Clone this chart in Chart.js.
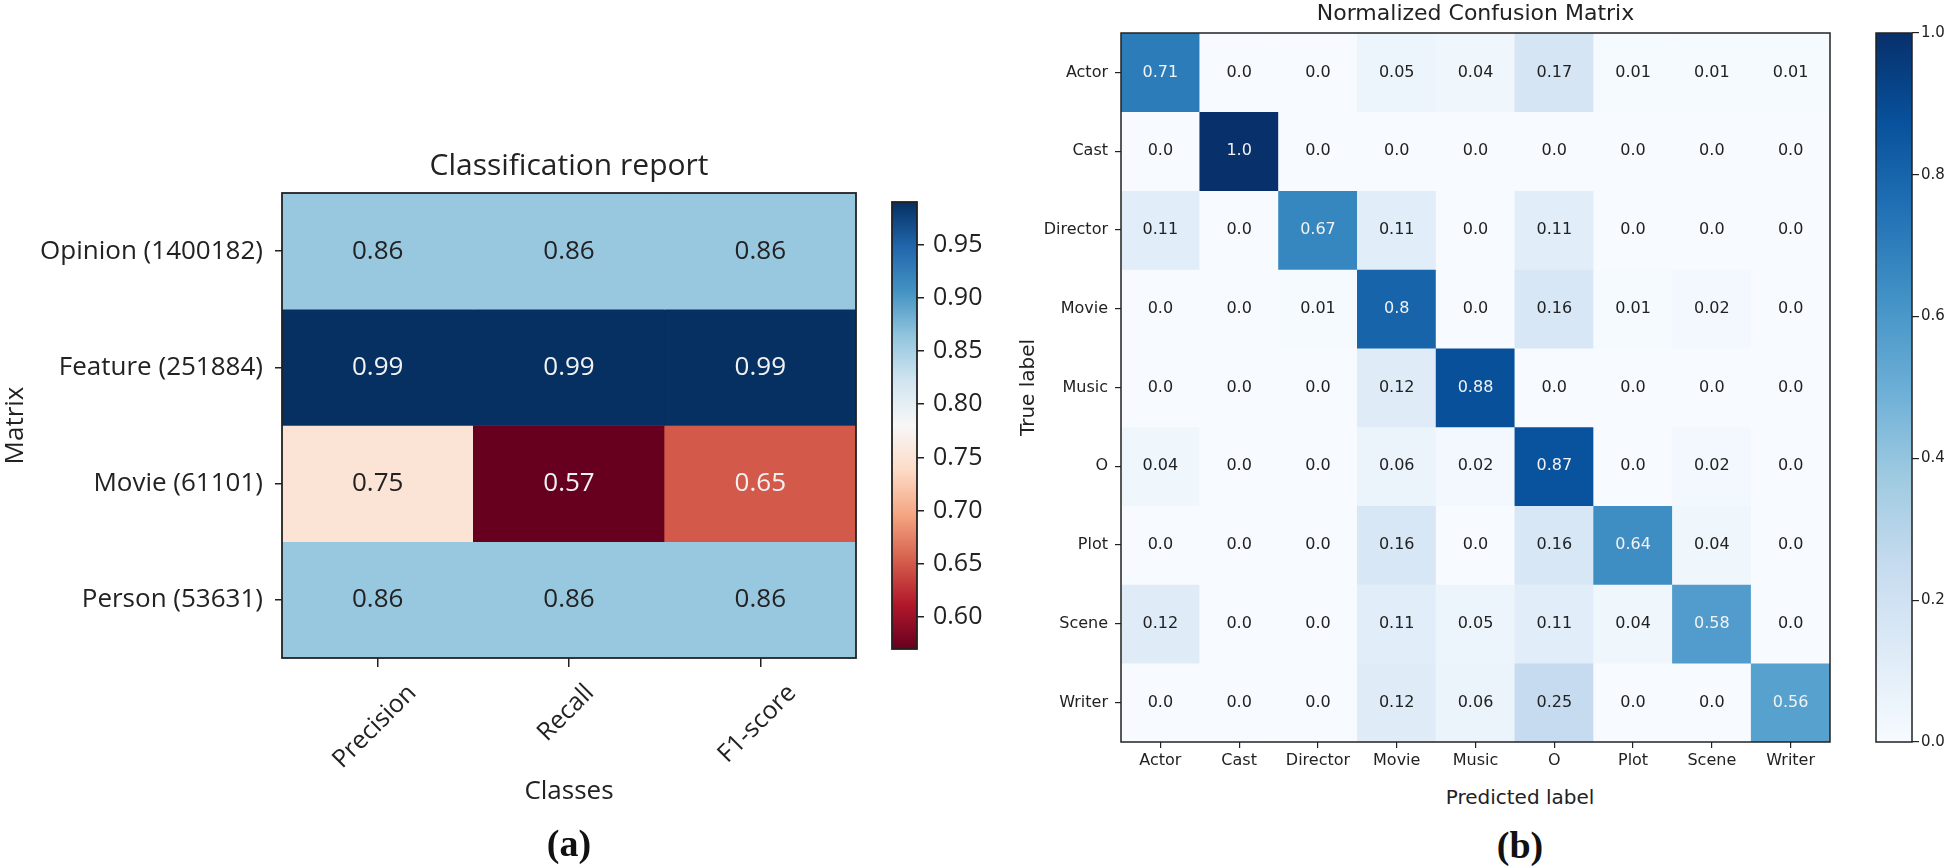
<!DOCTYPE html>
<html>
<head>
<meta charset="utf-8">
<script src="https://cdn.jsdelivr.net/npm/chart.js@4.4.1/dist/chart.umd.min.js"></script>
<style>
    html, body { margin: 0; padding: 0; background: #fff; }
    body { width: 1950px; height: 866px; position: relative; overflow: hidden; }
    .box { position: absolute; }
    .tag { position: absolute; transform: translate(-50%, -50%); font-family: 'Liberation Serif', serif; font-weight: bold; font-size: 38px; color: #111; }
    #predLabel { position: absolute; transform: translate(-50%, -50%); font-family: 'DejaVu Sans', sans-serif; font-size: 20px; color: #222; white-space: nowrap; }
</style>
</head>
<body>
<div class="box" style="left:0;top:140px;width:860px;height:726px"><canvas id="reportChart"></canvas></div>
<div class="box" style="left:887px;top:178px;width:115px;height:495px"><canvas id="reportBar"></canvas></div>
<div class="box" style="left:1017px;top:0;width:817px;height:772px"><canvas id="cmChart"></canvas></div>
<div class="box" style="left:1871px;top:18px;width:79px;height:739px"><canvas id="cmBar"></canvas></div>
<div id="predLabel" style="left:1520px;top:797px">Predicted label</div>
<div class="tag" style="left:569px;top:843px">(a)</div>
<div class="tag" style="left:1520px;top:845px">(b)</div>
<script>
    // ─── DATA ───
    const reportRows = ['Opinion (1400182)', 'Feature (251884)', 'Movie (61101)', 'Person (53631)'];
    const reportCols = ['Precision', 'Recall', 'F1-score'];
    const opinionScores = [0.86, 0.86, 0.86];
    const featureScores = [0.99, 0.99, 0.99];
    const movieScores = [0.75, 0.57, 0.65];
    const personScores = [0.86, 0.86, 0.86];
    const reportTicks = [0.60, 0.65, 0.70, 0.75, 0.80, 0.85, 0.90, 0.95];

    const cmLabels = ['Actor', 'Cast', 'Director', 'Movie', 'Music', 'O', 'Plot', 'Scene', 'Writer'];
    const actorRow = [0.71, 0.0, 0.0, 0.05, 0.04, 0.17, 0.01, 0.01, 0.01];
    const castRow = [0.0, 1.0, 0.0, 0.0, 0.0, 0.0, 0.0, 0.0, 0.0];
    const directorRow = [0.11, 0.0, 0.67, 0.11, 0.0, 0.11, 0.0, 0.0, 0.0];
    const movieRow = [0.0, 0.0, 0.01, 0.8, 0.0, 0.16, 0.01, 0.02, 0.0];
    const musicRow = [0.0, 0.0, 0.0, 0.12, 0.88, 0.0, 0.0, 0.0, 0.0];
    const oRow = [0.04, 0.0, 0.0, 0.06, 0.02, 0.87, 0.0, 0.02, 0.0];
    const plotRow = [0.0, 0.0, 0.0, 0.16, 0.0, 0.16, 0.64, 0.04, 0.0];
    const sceneRow = [0.12, 0.0, 0.0, 0.11, 0.05, 0.11, 0.04, 0.58, 0.0];
    const writerRow = [0.0, 0.0, 0.0, 0.12, 0.06, 0.25, 0.0, 0.0, 0.56];
    const cmTicks = [0.0, 0.2, 0.4, 0.6, 0.8, 1.0];

    const reportGrid = [opinionScores, featureScores, movieScores, personScores];
    const cmGrid = [actorRow, castRow, directorRow, movieRow, musicRow, oRow, plotRow, sceneRow, writerRow];
    const reportMin = Math.min(...reportGrid.flat());
    const reportMax = Math.max(...reportGrid.flat());

    // ─── COLOUR MAPS ───
    const rdBu = ['#67001f', '#b2182b', '#d6604d', '#f4a582', '#fddbc7', '#f7f7f7',
        '#d1e5f0', '#92c5de', '#4393c3', '#2166ac', '#053061'];
    const blues = ['#f7fbff', '#deebf7', '#c6dbef', '#9ecae1', '#6baed6', '#4292c6',
        '#2171b5', '#08519c', '#08306b'];

    function hexToRgb(h) {
        const n = parseInt(h.slice(1), 16);
        return [(n >> 16) & 255, (n >> 8) & 255, n & 255];
    }

    function sampleRgb(stops, t) {
        t = Math.min(1, Math.max(0, t));
        const p = t * (stops.length - 1);
        const i = Math.min(Math.floor(p), stops.length - 2);
        const f = p - i;
        const a = hexToRgb(stops[i]), b = hexToRgb(stops[i + 1]);
        return a.map((c, k) => Math.round(c + (b[k] - c) * f));
    }

    const toCss = rgb => 'rgb(' + rgb.join(',') + ')';
    const reportT = v => (v - reportMin) / (reportMax - reportMin);

    // ─── PLUGINS ───
    const frameBorder = {
        id: 'frameBorder',
        afterDraw(chart, args, opts) {
            const { ctx, chartArea: a } = chart;
            ctx.save();
            ctx.strokeStyle = '#222';
            ctx.lineWidth = opts.width || 1.5;
            ctx.strokeRect(a.left, a.top, a.right - a.left, a.bottom - a.top);
            ctx.restore();
        }
    };

    function cellText(grid, font, format, colorFor) {
        return {
            id: 'cellText',
            afterDatasetsDraw(chart) {
                const ctx = chart.ctx;
                ctx.save();
                ctx.font = font;
                ctx.textAlign = 'center';
                ctx.textBaseline = 'middle';
                grid.forEach((row, i) => {
                    chart.getDatasetMeta(i).data.forEach((bar, j) => {
                        ctx.fillStyle = colorFor(row[j]);
                        ctx.fillText(format(row[j]), bar.x, (bar.y + bar.base) / 2);
                    });
                });
                ctx.restore();
            }
        };
    }

    // x labels at 45deg, centred under the tick like matplotlib
    const slantedLabels = {
        id: 'slantedLabels',
        afterDraw(chart) {
            const ctx = chart.ctx, scale = chart.scales.x;
            const size = 25;
            ctx.save();
            ctx.font = size + 'px "Open Sans"';
            ctx.fillStyle = '#222';
            ctx.textAlign = 'center';
            ctx.textBaseline = 'middle';
            reportCols.forEach((label, i) => {
                const w = ctx.measureText(label).width;
                const side = (w + size * 0.8) * Math.SQRT1_2;
                ctx.save();
                ctx.translate(scale.getPixelForTick(i) - 3, scale.top + 24 + side / 2);
                ctx.rotate(-Math.PI / 4);
                ctx.fillText(label, 0, 0);
                ctx.restore();
            });
            ctx.restore();
        }
    };

    function gradientFill(stops) {
        return function(context) {
            const area = context.chart.chartArea;
            if (!area) return null;
            const g = context.chart.ctx.createLinearGradient(0, area.bottom, 0, area.top);
            stops.forEach((c, i) => g.addColorStop(i / (stops.length - 1), c));
            return g;
        };
    }

    // ─── CHARTS ───
    function initCharts() {
        Chart.defaults.animation = false;
        Chart.defaults.color = '#222';

        const openSans = size => ({ family: 'Open Sans', size: size, weight: 'normal' });
        const dejavu = size => ({ family: 'DejaVu Sans', size: size, weight: 'normal' });

        // (a) classification report
        new Chart(document.getElementById('reportChart'), {
            type: 'bar',
            data: {
                labels: reportCols,
                datasets: reportGrid.map((row, i) => ({
                    label: reportRows[i],
                    data: row.map(() => 1),
                    backgroundColor: row.map(v => toCss(sampleRgb(rdBu, reportT(v)))),
                    borderWidth: 0,
                    barPercentage: 1,
                    categoryPercentage: 1,
                }))
            },
            options: {
                responsive: true,
                maintainAspectRatio: false,
                layout: { padding: { right: 4 } },
                plugins: {
                    legend: { display: false },
                    tooltip: { enabled: false },
                    title: { display: true, fullSize: false, text: 'Classification report', font: openSans(30), color: '#222', padding: { top: 8, bottom: 9 } },
                    frameBorder: { width: 1.8 }
                },
                scales: {
                    x: {
                        stacked: true,
                        border: { display: false },
                        grid: { offset: false, drawOnChartArea: false, drawTicks: true, tickLength: 9, color: '#222', lineWidth: 1.5 },
                        ticks: { display: false },
                        title: { display: true, text: 'Classes', font: openSans(26), color: '#222', padding: { top: 0, bottom: 59 } },
                        afterFit: s => { s.height = 208; }
                    },
                    y: {
                        stacked: true,
                        reverse: true,
                        min: 0,
                        max: reportRows.length,
                        border: { display: false },
                        grid: { drawOnChartArea: false, drawTicks: true, tickLength: 7, color: '#222', lineWidth: 1.5 },
                        afterBuildTicks: s => { s.ticks = reportRows.map((_, i) => ({ value: i + 0.5 })); },
                        ticks: { font: openSans(26), color: '#222', padding: 12, callback: (v, i) => reportRows[i] },
                        title: { display: true, text: 'Matrix', font: openSans(26), color: '#222', padding: { top: 0, bottom: 0 } },
                        afterFit: s => { s.width = 282; }
                    }
                }
            },
            plugins: [frameBorder, slantedLabels, cellText(reportGrid, '26px "Open Sans"', v => v.toFixed(2), v => {
                const c = sampleRgb(rdBu, reportT(v));
                return (0.299 * c[0] + 0.587 * c[1] + 0.114 * c[2]) / 255 < 0.5 ? '#f2f2f2' : '#222';
            })]
        });

        new Chart(document.getElementById('reportBar'), {
            type: 'bar',
            data: {
                labels: [''],
                datasets: [{ data: [[reportMin, reportMax]], backgroundColor: gradientFill(rdBu), borderWidth: 0, barPercentage: 1, categoryPercentage: 1 }]
            },
            options: {
                responsive: true,
                maintainAspectRatio: false,
                layout: { padding: { left: 5, top: 15, bottom: 15 } },
                plugins: { legend: { display: false }, tooltip: { enabled: false }, frameBorder: { width: 1.8 } },
                scales: {
                    x: { display: false },
                    y: {
                        position: 'right',
                        min: reportMin,
                        max: reportMax,
                        border: { display: false },
                        grid: { drawOnChartArea: false, drawTicks: true, tickLength: 7, color: '#222', lineWidth: 1.5 },
                        afterBuildTicks: s => { s.ticks = reportTicks.map(v => ({ value: v })); },
                        ticks: { font: openSans(25), color: '#222', padding: 9, callback: v => v.toFixed(2) },
                        afterFit: s => { s.width = 85; }
                    }
                }
            },
            plugins: [frameBorder]
        });

        // (b) normalized confusion matrix
        new Chart(document.getElementById('cmChart'), {
            type: 'bar',
            data: {
                labels: cmLabels,
                datasets: cmGrid.map((row, i) => ({
                    label: cmLabels[i],
                    data: row.map(() => 1),
                    backgroundColor: row.map(v => toCss(sampleRgb(blues, v))),
                    borderWidth: 0,
                    barPercentage: 1,
                    categoryPercentage: 1,
                }))
            },
            options: {
                responsive: true,
                maintainAspectRatio: false,
                layout: { padding: { right: 4 } },
                plugins: {
                    legend: { display: false },
                    tooltip: { enabled: false },
                    title: { display: true, fullSize: false, text: 'Normalized Confusion Matrix', font: dejavu(22), color: '#222', padding: { top: 1, bottom: 5.6 } },
                    frameBorder: { width: 1.5 }
                },
                scales: {
                    x: {
                        stacked: true,
                        border: { display: false },
                        grid: { offset: false, drawOnChartArea: false, drawTicks: true, tickLength: 6, color: '#222', lineWidth: 1.2 },
                        ticks: { font: dejavu(16), color: '#222', padding: 3, maxRotation: 0 },
                        afterFit: s => { s.height = 30; }
                    },
                    y: {
                        stacked: true,
                        reverse: true,
                        min: 0,
                        max: cmLabels.length,
                        border: { display: false },
                        grid: { drawOnChartArea: false, drawTicks: true, tickLength: 6, color: '#222', lineWidth: 1.2 },
                        afterBuildTicks: s => { s.ticks = cmLabels.map((_, i) => ({ value: i + 0.5 })); },
                        ticks: { font: dejavu(16), color: '#222', padding: 7, callback: (v, i) => cmLabels[i] },
                        title: { display: true, text: 'True label', font: dejavu(20), color: '#222', padding: { top: 0, bottom: 0 } },
                        afterFit: s => { s.width = 104; }
                    }
                }
            },
            plugins: [frameBorder, cellText(cmGrid, '16px "DejaVu Sans"', v => (v === Math.round(v) ? v.toFixed(1) : String(v)), v => (v > 0.5 ? '#f2f2f2' : '#222'))]
        });

        new Chart(document.getElementById('cmBar'), {
            type: 'bar',
            data: {
                labels: [''],
                datasets: [{ data: [[cmTicks[0], cmTicks[cmTicks.length - 1]]], backgroundColor: gradientFill(blues), borderWidth: 0, barPercentage: 1, categoryPercentage: 1 }]
            },
            options: {
                responsive: true,
                maintainAspectRatio: false,
                layout: { padding: { left: 5, top: 15, bottom: 15 } },
                plugins: { legend: { display: false }, tooltip: { enabled: false }, frameBorder: { width: 1.5 } },
                scales: {
                    x: { display: false },
                    y: {
                        position: 'right',
                        min: cmTicks[0],
                        max: cmTicks[cmTicks.length - 1],
                        border: { display: false },
                        grid: { drawOnChartArea: false, drawTicks: true, tickLength: 7, color: '#222', lineWidth: 1.2 },
                        afterBuildTicks: s => { s.ticks = cmTicks.map(v => ({ value: v })); },
                        ticks: { font: dejavu(15), color: '#222', padding: 2, callback: v => v.toFixed(1) },
                        afterFit: s => { s.width = 38; }
                    }
                }
            },
            plugins: [frameBorder]
        });
    }

    // ─── INIT ───
    document.addEventListener('DOMContentLoaded', initCharts);
</script>
</body>
</html>
